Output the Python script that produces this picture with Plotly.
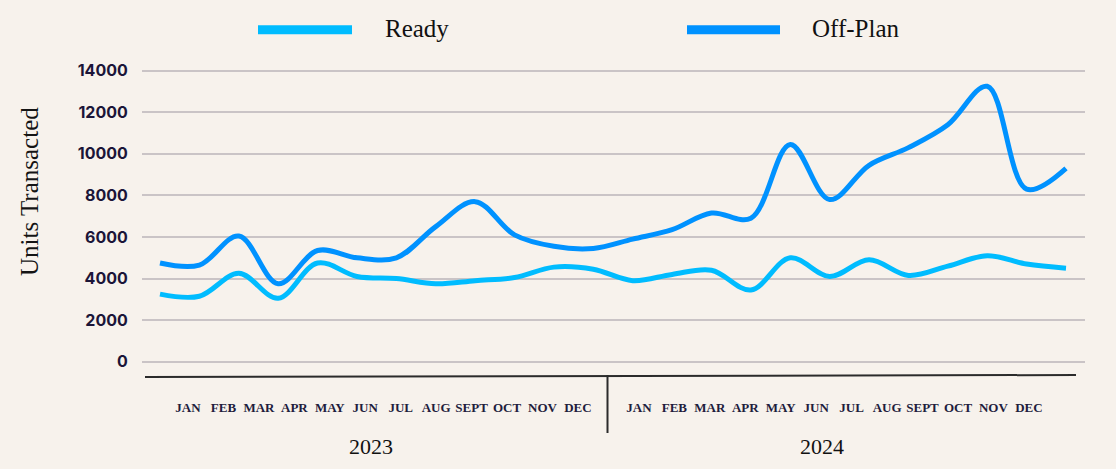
import plotly.graph_objects as go

# ---- data ----
months = ["JAN", "FEB", "MAR", "APR", "MAY", "JUN", "JUL", "AUG", "SEPT", "OCT", "NOV", "DEC"]
years = ["2023", "2024"]
ready = [3250, 3150, 4250, 3050, 4750, 4100, 4000, 3750, 3900, 4050, 4550, 4450,
         3900, 4200, 4400, 3450, 5000, 4100, 4900, 4150, 4600, 5100, 4700, 4500]
off_plan = [4750, 4650, 6050, 3750, 5350, 5000, 5000, 6500, 7700, 6100, 5550, 5450,
            5900, 6350, 7150, 6900, 10450, 7800, 9450, 10300, 11400, 13250, 8300, 9300]
y_ticks = [0, 2000, 4000, 6000, 8000, 10000, 12000, 14000]
series_names = ["Ready", "Off-Plan"]
colors = ["#00BCFF", "#0092FF"]

# ---- layout geometry (screen pixels) ----
W_PX, H_PX = 1116, 469
L, R, T, B = 142, 1085, 65, 370
PW, PH = R - L, B - T


def px(xp):
    return (xp - L) / PW


def py(yp):
    return (B - yp) / PH


bg = "#F7F2EC"
x_idx = list(range(len(ready)))

fig = go.Figure()
for name, vals, col in zip(series_names, [ready, off_plan], colors):
    fig.add_trace(go.Scatter(
        x=x_idx, y=vals, mode="lines", name=name,
        line=dict(color=col, width=5, shape="spline", smoothing=1.0),
        showlegend=False, hoverinfo="x+y",
    ))

# secondary x axis for month labels (label slots)
year_gap = 0.72
label_pos = []
label_txt = []
for yi, yr in enumerate(years):
    for mi, m in enumerate(months):
        label_pos.append(yi * (len(months) + year_gap) + mi)
        label_txt.append(m)

fig.add_trace(go.Scatter(x=[label_pos[0]], y=[None], xaxis="x2", mode="lines",
                         showlegend=False, hoverinfo="skip"))

slot = 35.45
first_label_px = 188
x2_range = [(L - first_label_px) / slot, (R - first_label_px) / slot]

annotations = []
# year labels
for yi, yr in enumerate(years):
    mid = yi * (len(months) + year_gap) + (len(months) - 1) / 2 - 0.33
    annotations.append(dict(text=yr, x=mid, xref="x2", y=py(446), yref="paper",
                            showarrow=False, xanchor="center", yanchor="middle",
                            font=dict(family="Liberation Serif", size=22, color="#111111")))
# y axis title
annotations.append(dict(text="Units Transacted", x=px(29), y=py(192), xref="paper", yref="paper",
                        textangle=-90, showarrow=False, xanchor="center", yanchor="middle",
                        font=dict(family="Liberation Serif", size=25, color="#141414")))

shapes = []
# legend
leg = [(258, 352, 383), (687, 780, 810)]
for (x0, x1, tx), name, col in zip(leg, series_names, colors):
    shapes.append(dict(type="line", xref="paper", yref="paper", x0=px(x0), x1=px(x1),
                       y0=py(29.7), y1=py(29.7), line=dict(color=col, width=9)))
    annotations.append(dict(text=name, x=px(tx), y=py(29), xref="paper", yref="paper",
                            showarrow=False, xanchor="left", yanchor="middle",
                            font=dict(family="Liberation Serif", size=25, color="#111111")))

# bottom axis line and divider
shapes.append(dict(type="line", xref="paper", yref="paper", x0=px(145), x1=px(1076),
                   y0=py(377), y1=py(375), line=dict(color="#2b2b2b", width=2)))
shapes.append(dict(type="line", xref="paper", yref="paper", x0=px(607.5), x1=px(607.5),
                   y0=py(375), y1=py(433), line=dict(color="#2b2b2b", width=2)))

ppu = (361.7 - 70.7) / 14000.0
y_range = [-(B - 361.7) / ppu, 14000 + (70.7 - T) / ppu]
xpu = (1066 - 160) / 23.0
x_range = [-(160 - L) / xpu, 23 + (R - 1066) / xpu]

fig.update_layout(
    width=W_PX, height=H_PX,
    margin=dict(l=L, r=W_PX - R, t=T, b=H_PX - B, pad=0),
    paper_bgcolor=bg, plot_bgcolor=bg,
    xaxis=dict(range=x_range, showgrid=False, zeroline=False, showticklabels=False,
               showline=False, ticks=""),
    xaxis2=dict(overlaying="x", anchor="y", side="bottom", range=x2_range,
                tickmode="array", tickvals=label_pos, ticktext=label_txt,
                showgrid=False, zeroline=False, showline=False,
                ticks="outside", ticklen=25, tickcolor="rgba(0,0,0,0)",
                tickfont=dict(family="Liberation Serif", size=13, color="#1f1d3d", weight="bold")),
    yaxis=dict(range=y_range, tickmode="array", tickvals=y_ticks,
               ticktext=[str(v) for v in y_ticks], showgrid=True,
               gridcolor="#CAC4C6", gridwidth=1.5, zeroline=False, showline=False,
               ticks="outside", ticklen=10, tickcolor="rgba(0,0,0,0)",
               tickfont=dict(family="Inter", size=16, color="#1b1538", weight="bold")),
    shapes=shapes, annotations=annotations,
    showlegend=False,
)

fig.write_html(
    "out.html",
    config={"displayModeBar": False},
    post_script=("document.body.style.margin='0';"
                 "document.body.style.overflow='hidden';"
                 "document.body.style.background='" + bg + "';"),
)
